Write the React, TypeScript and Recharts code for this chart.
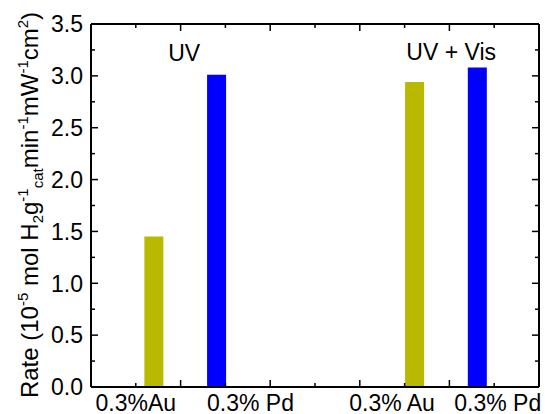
import React from 'react';
import {
  BarChart,
  Bar,
  Cell,
  XAxis,
  YAxis,
  ReferenceDot,
} from 'recharts';

const catalysts = ['0.3%Au', '0.3% Pd', '0.3% Au', '0.3% Pd'];
const barPositions = [0.7, 1.4, 3.61, 4.31];
const rates = [1.45, 3.01, 2.94, 3.08];
const barColors = ['#b9b900', '#0000ff', '#b9b900', '#0000ff'];
const labelPositions = [0.5, 1.78, 3.36, 4.54];

const yTicks = [0, 0.25, 0.5, 0.75, 1, 1.25, 1.5, 1.75, 2, 2.25, 2.5, 2.75, 3, 3.25, 3.5];
const xTicks = [0, 0.5, 1, 1.5, 2, 2.5, 3, 3.5, 4, 4.5, 5];

const conditions = ['UV', 'UV + Vis'];
const conditionX = [1.04, 4.02];
const conditionY = [3.14, 3.15];

const data = barPositions.map((pos, i) => ({ pos, rate: rates[i] }));
// bottom axis carries both the tick marks and the catalyst names
const bottomTicks = Array.from(new Set([...xTicks, ...labelPositions])).sort((a, b) => a - b);

const LeftTick = (props: any) => {
  const { x, y, payload } = props;
  const major = payload.value % 0.5 === 0;
  return (
    <g>
      <line x1={x} x2={x + (major ? 7 : 4)} y1={y} y2={y} stroke="#000" strokeWidth={1.5} />
      {major && (
        <text x={x - 8} y={y} dy="0.36em" textAnchor="end" fontSize={23} fill="#000">
          {payload.value.toFixed(1)}
        </text>
      )}
    </g>
  );
};

const RightTick = (props: any) => {
  const { x, y, payload } = props;
  const major = payload.value % 0.5 === 0;
  return <line x1={x} x2={x - (major ? 7 : 4)} y1={y} y2={y} stroke="#000" strokeWidth={1.5} />;
};

const BottomTick = (props: any) => {
  const { x, y, payload } = props;
  const v = payload.value;
  const isMark = xTicks.indexOf(v) >= 0;
  const li = labelPositions.indexOf(v);
  return (
    <g>
      {isMark && (
        <line x1={x} x2={x} y1={y} y2={y - (v % 1 === 0 ? 7 : 4)} stroke="#000" strokeWidth={1.5} />
      )}
      {li >= 0 && (
        <text x={x} y={y + 24} textAnchor="middle" fontSize={23} fill="#000">
          {catalysts[li]}
        </text>
      )}
    </g>
  );
};

const TopTick = (props: any) => {
  const { x, y, payload } = props;
  return <line x1={x} x2={x} y1={y} y2={y + (payload.value % 1 === 0 ? 7 : 4)} stroke="#000" strokeWidth={1.5} />;
};

const RateLabel = () => {
  const sup = 15;
  return (
    <text transform="translate(38,205) rotate(-90)" textAnchor="middle" fontSize={24} fill="#000">
      <tspan>Rate (10</tspan>
      <tspan fontSize={sup} dy={-10}>-5</tspan>
      <tspan dy={10}> mol H</tspan>
      <tspan fontSize={sup} dy={5}>2</tspan>
      <tspan dy={-5}>g</tspan>
      <tspan fontSize={sup} dy={-10}>-1</tspan>
      <tspan fontSize={sup} dy={15}>cat</tspan>
      <tspan dy={-5}>min</tspan>
      <tspan fontSize={sup} dy={-10}>-1</tspan>
      <tspan dy={10}>mW</tspan>
      <tspan fontSize={sup} dy={-10}>-1</tspan>
      <tspan dy={10}>cm</tspan>
      <tspan fontSize={sup} dy={-10}>2</tspan>
      <tspan dy={10}>)</tspan>
    </text>
  );
};

export default function App() {
  return (
    <div style={{ position: 'absolute', left: 0, top: 0, fontFamily: '"Liberation Sans", Arial, sans-serif' }}>
      <BarChart width={545} height={414} data={data} margin={{ top: 0, right: 0, bottom: 0, left: 0 }}>
        <XAxis
          xAxisId="x"
          dataKey="pos"
          type="number"
          domain={[0, 5]}
          ticks={bottomTicks}
          interval={0}
          height={27}
          tickSize={0}
          tickMargin={0}
          axisLine={{ stroke: '#000', strokeWidth: 2 }}
          tickLine={false}
          tick={<BottomTick />}
        />
        <XAxis
          xAxisId="top"
          dataKey="pos"
          orientation="top"
          type="number"
          domain={[0, 5]}
          ticks={xTicks}
          interval={0}
          height={24}
          tickSize={0}
          tickMargin={0}
          axisLine={{ stroke: '#000', strokeWidth: 2 }}
          tickLine={false}
          tick={<TopTick />}
        />
        <YAxis
          yAxisId="left"
          type="number"
          domain={[0, 3.5]}
          ticks={yTicks}
          interval={0}
          width={91}
          tickSize={0}
          tickMargin={0}
          axisLine={{ stroke: '#000', strokeWidth: 2 }}
          tickLine={false}
          tick={<LeftTick />}
          label={{ content: () => <RateLabel /> }}
        />
        <YAxis
          yAxisId="right"
          dataKey="rate"
          orientation="right"
          type="number"
          domain={[0, 3.5]}
          ticks={yTicks}
          interval={0}
          width={6}
          tickSize={0}
          tickMargin={0}
          axisLine={{ stroke: '#000', strokeWidth: 2 }}
          tickLine={false}
          tick={<RightTick />}
        />
        <Bar xAxisId="x" yAxisId="left" dataKey="rate" barSize={19} isAnimationActive={false}>
          {data.map((d, i) => (
            <Cell key={i} fill={barColors[i]} />
          ))}
        </Bar>
        {conditions.map((c, i) => (
          <ReferenceDot
            key={c}
            xAxisId="x"
            yAxisId="left"
            x={conditionX[i]}
            y={conditionY[i]}
            r={0}
            fill="none"
            stroke="none"
            label={{
              content: (p: any) => (
                <text x={p.viewBox.x} y={p.viewBox.y} textAnchor="middle" fontSize={23} fill="#000">
                  {c}
                </text>
              ),
            }}
          />
        ))}
      </BarChart>
    </div>
  );
}
